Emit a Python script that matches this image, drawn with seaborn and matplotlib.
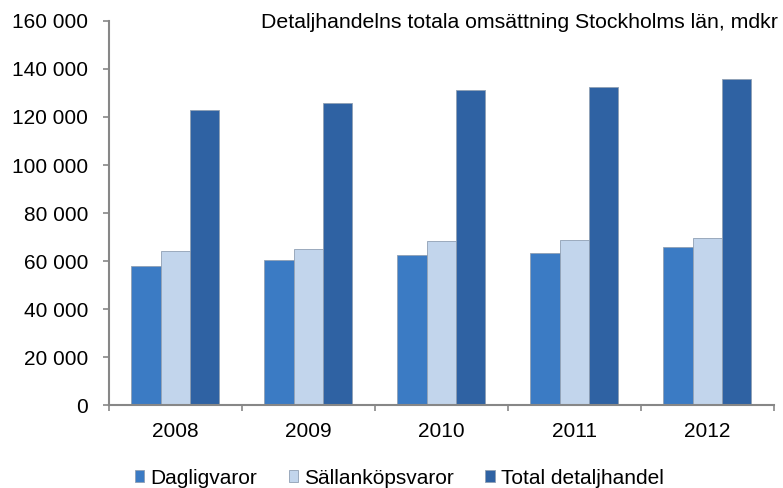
import numpy as np
import pandas as pd
import seaborn as sns
import matplotlib.pyplot as plt
from matplotlib.ticker import FuncFormatter, FixedLocator

years = ["2008", "2009", "2010", "2011", "2012"]
dagligvaror = [58000, 60300, 62300, 63200, 66000]
sallankop = [64200, 64900, 68300, 68800, 69400]
total = [123000, 125800, 131400, 132700, 136000]
series = ["Dagligvaror", "Sällanköpsvaror", "Total detaljhandel"]
colors = ["#3b7bc4", "#c2d5ec", "#2f62a3"]

df = pd.DataFrame({
    "year": years * 3,
    "value": dagligvaror + sallankop + total,
    "serie": [series[0]] * 5 + [series[1]] * 5 + [series[2]] * 5,
})

sns.set_style("white")
plt.rcParams["font.family"] = ["Liberation Sans", "DejaVu Sans"]
plt.rcParams["text.color"] = "black"
plt.rcParams["xtick.color"] = "black"
plt.rcParams["ytick.color"] = "black"

fig = plt.figure(figsize=(7.83, 4.88), dpi=100)
ax = fig.add_axes([0.139, 0.170, 0.849, 0.787])

sns.barplot(data=df, x="year", y="value", hue="serie", palette=colors, saturation=1,
            width=0.66, edgecolor="#8fa0b4", linewidth=0.6, ax=ax, legend=True)

ax.set_ylim(0, 160000)
ax.set_xlim(-0.5, 4.5)
ax.set_yticks(np.arange(0, 160001, 20000))
ax.yaxis.set_major_formatter(FuncFormatter(lambda v, p: f"{int(v):,}".replace(",", " ")))
ax.xaxis.set_minor_locator(FixedLocator(np.arange(-0.5, 5, 1)))
ax.tick_params(axis="x", which="major", bottom=True, length=0, labelsize=15, pad=12.5,
               labelcolor="black")
ax.tick_params(axis="x", which="minor", bottom=True, length=4.3, color="#878787", width=1.2)
ax.tick_params(axis="y", left=True, length=4.3, color="#878787", width=1.2, labelsize=15,
               pad=10.5, labelcolor="black")
ax.set_xlabel("")
ax.set_ylabel("")
for s in ["top", "right"]:
    ax.spines[s].set_visible(False)
for s in ["left", "bottom"]:
    ax.spines[s].set_color("#878787")
    ax.spines[s].set_linewidth(1.5)

fig.text(778 / 783, 1 - 22 / 488, "Detaljhandelns totala omsättning Stockholms län, mdkr",
         ha="right", va="center", fontsize=15.3, color="black")

h, l = ax.get_legend_handles_labels()
ax.legend(h, l, loc="center", bbox_to_anchor=(0.510, 1 - 478 / 488),
          bbox_transform=fig.transFigure, ncol=3, frameon=False,
          fontsize=15, handlelength=0.45, handleheight=0.45, handletextpad=0.3,
          columnspacing=1.5)

fig.savefig("out.png", dpi=100)
